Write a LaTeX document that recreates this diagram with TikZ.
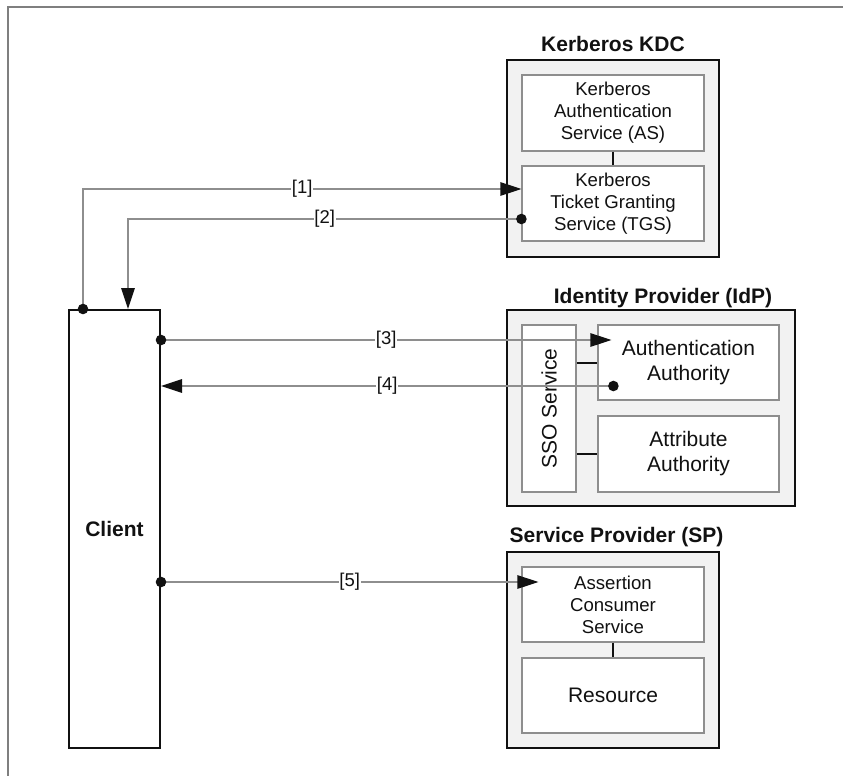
\documentclass[tikz,border=0pt]{standalone}
\usepackage{fontspec}
\setmainfont{Liberation Sans}
\usetikzlibrary{arrows.meta,calc}

\definecolor{framegray}{HTML}{7F7F7F}
\definecolor{linegray}{HTML}{8E8E8E}
\definecolor{panelfill}{HTML}{F2F2F2}
\definecolor{inkblack}{HTML}{111111}

\tikzset{
  panel/.style={draw=inkblack, line width=2pt, fill=panelfill, inner sep=0pt},
  part/.style={draw=linegray, line width=1.2pt, fill=white, align=center,
    inner sep=0pt, text=inkblack, font=\fontsize{18.6}{22}\selectfont},
  partlarge/.style={part, font=\fontsize{21}{25}\selectfont},
  paneltitle/.style={anchor=base, inner sep=0pt, text=inkblack,
    font=\bfseries\fontsize{21}{25}\selectfont},
  link/.style={draw=inkblack, line width=2pt},
  msg/.style={draw=linegray, line width=1.3pt,
    -{Triangle[length=21pt, width=13.5pt, inkblack]}},
  msgnum/.style={fill=white, inner sep=0.6pt, text=inkblack,
    font=\fontsize{18.5}{22}\selectfont},
  dot/.style={fill=inkblack}
}

\begin{document}
\begin{tikzpicture}[x=1pt, y=-1pt]
  \useasboundingbox (0,0) rectangle (843,776);

  % page frame (top and left rules)
  \draw[framegray, line width=1.6pt] (8,776) -- (8,7) -- (843,7);

  % client
  \node[draw=inkblack, line width=2pt, fill=white, minimum width=91pt,
        minimum height=438pt, inner sep=0pt, text=inkblack,
        font=\bfseries\fontsize{21}{25}\selectfont] (client) at (114.5,529) {Client};

  % Kerberos KDC
  \node[panel, minimum width=212pt, minimum height=197pt] (kdc) at (613,158.5) {};
  \node[paneltitle] (kdctitle) at (613,52) {Kerberos KDC};
  \node[part, minimum width=182pt, minimum height=76pt] (as) at (613,113)
    {Kerberos\\Authentication\\Service (AS)};
  \node[part, minimum width=182pt, minimum height=75pt] (tgs) at (613,203.5)
    {Kerberos\\Ticket Granting\\Service (TGS)};
  \draw[link] (as.south) -- (tgs.north);

  % Identity Provider
  \node[panel, minimum width=288pt, minimum height=196pt] (idp) at (651,408) {};
  \node[paneltitle] (idptitle) at (663,303) {Identity Provider (IdP)};
  \node[part, minimum width=54pt, minimum height=167pt] (sso) at (549,408.5) {};
  \node[rotate=90, inner sep=0pt, text=inkblack,
        font=\fontsize{21}{25}\selectfont] (ssotext) at (sso.center) {SSO Service};
  \node[partlarge, minimum width=181pt, minimum height=75pt] (aa) at (688.5,362.5)
    {Authentication\\Authority};
  \node[partlarge, minimum width=181pt, minimum height=76pt] (attr) at (688.5,454)
    {Attribute\\Authority};
  \draw[link] (sso.east |- aa.west) -- (aa.west);
  \draw[link] (sso.east |- attr.west) -- (attr.west);

  % Service Provider
  \node[panel, minimum width=212pt, minimum height=196pt] (sp) at (613,650) {};
  \node[paneltitle] (sptitle) at (616.5,542) {Service Provider (SP)};
  \node[part, minimum width=182pt, minimum height=75pt] (acs) at (613,604.5)
    {Assertion\\Consumer\\Service};
  \node[partlarge, minimum width=182pt, minimum height=75pt] (res) at (613,695.5)
    {Resource};
  \draw[link] (acs.south) -- (res.north);

  % message end points
  \coordinate (m1s) at ($(client.north west)+(15,0)$);
  \coordinate (m1e) at ($(tgs.west)+(0,-14.5)$);
  \coordinate (m2s) at ($(tgs.west)+(0,15.5)$);
  \coordinate (m2e) at ($(client.north west)+(60,0)$);
  \coordinate (m3s) at (client.east |- 0,340);
  \coordinate (m3e) at ($(aa.west |- 0,340)+(14,0)$);
  \coordinate (m4s) at ($(aa.west |- 0,386)+(16,0)$);
  \coordinate (m4e) at (client.east |- 0,386);
  \coordinate (m5s) at (client.east |- 0,582);
  \coordinate (m5e) at ($(acs.west |- 0,582)+(17,0)$);

  % messages
  \draw[msg] (m1s) |- node[msgnum, pos=0.75] {[1]} (m1e);
  \draw[msg] (m2s) -| node[msgnum, pos=0.25] {[2]} (m2e);
  \draw[msg] (m3s) -- node[msgnum] {[3]} (m3e);
  \draw[msg] (m4s) -- node[msgnum] {[4]} (m4e);
  \draw[msg] (m5s) -- node[msgnum] {[5]} (m5e);

  % message origins
  \foreach \p in {m1s,m2s,m3s,m4s,m5s} \fill[dot] (\p) circle (5.3pt);
\end{tikzpicture}
\end{document}
